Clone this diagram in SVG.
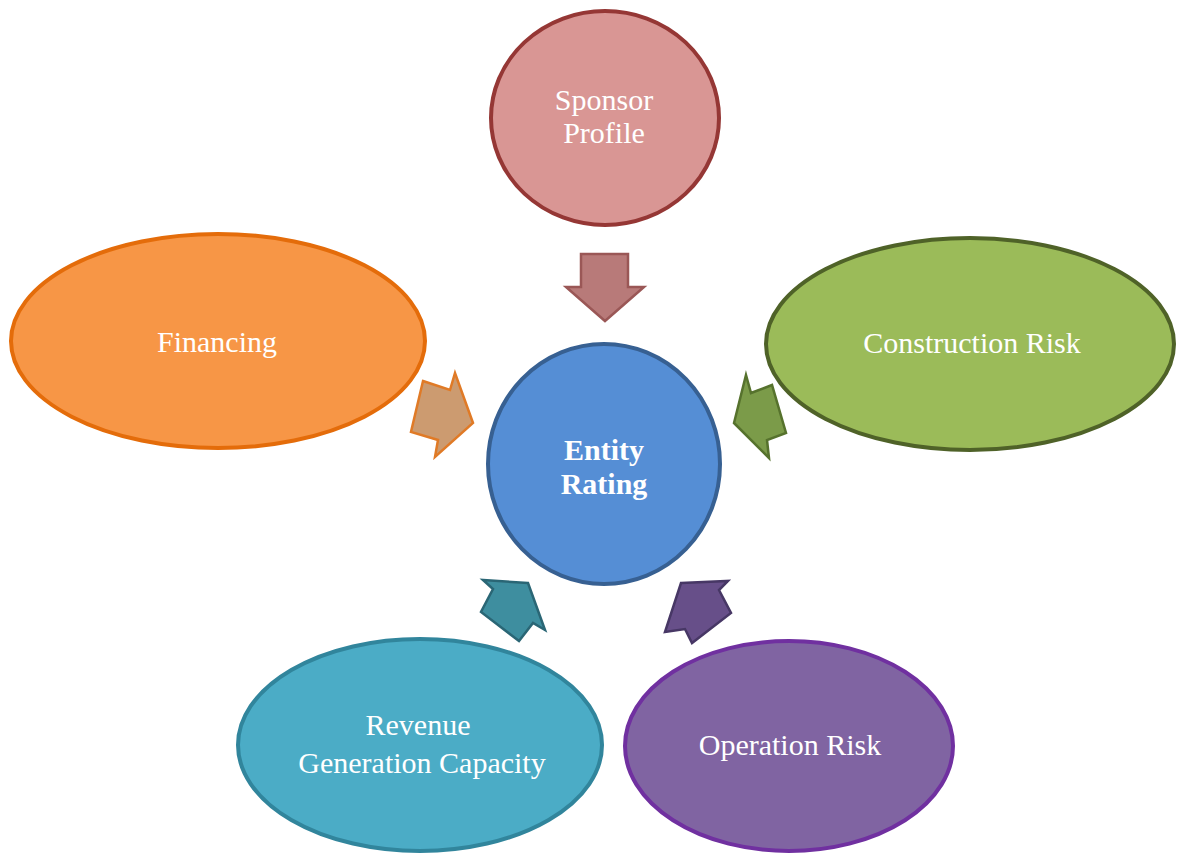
<svg xmlns="http://www.w3.org/2000/svg" width="1177" height="855" viewBox="0 0 1177 855">
<style>
.lbl{font-family:"Liberation Serif","Times New Roman",serif;font-size:30px;fill:#ffffff;text-anchor:middle}
.node{stroke-width:4}
.arr{stroke-width:2.5;stroke-linejoin:miter}
</style>
<rect width="1177" height="855" fill="#ffffff"/>
<g id="connectors">
<polygon class="arr" fill="#b87a79" stroke="#9a5756" points="581,254 628,254 628,287 644,287 605,321 566,287 581,287"/>
<polygon class="arr" fill="#cc9b70" stroke="#e07a26" points="423,381 450,390 455,373 473,423 435,457 438,440 411,432"/>
<polygon class="arr" fill="#7b9b49" stroke="#56722d" points="746,375 751,393 772,385 786,433 767,440 769,458 734,423"/>
<polygon class="arr" fill="#3e8e9f" stroke="#2a6675" points="528,583 483,580 493,589 481,612 519,641 533,623 545,630"/>
<polygon class="arr" fill="#674f89" stroke="#473765" points="681,583 728,581 719,590 731,613 692,643 685,629 665,632"/>
</g>
<g id="sponsor">
<ellipse class="node" cx="605" cy="118" rx="114" ry="107" fill="#d99694" stroke="#953735"/>
<text class="lbl" x="604" y="110">Sponsor</text>
<text class="lbl" x="604" y="143">Profile</text>
</g>
<g id="financing">
<ellipse class="node" cx="218" cy="341" rx="207" ry="107" fill="#f79646" stroke="#e46c0a"/>
<text class="lbl" x="217" y="352">Financing</text>
</g>
<g id="construction">
<ellipse class="node" cx="970" cy="344" rx="204" ry="106" fill="#9bbb59" stroke="#4f6228"/>
<text class="lbl" x="972" y="353">Construction Risk</text>
</g>
<g id="entity">
<ellipse class="node" cx="604" cy="464" rx="116" ry="120" fill="#558ed5" stroke="#376092"/>
<text class="lbl" x="604" y="460" font-weight="bold">Entity</text>
<text class="lbl" x="604" y="494" font-weight="bold">Rating</text>
</g>
<g id="revenue">
<ellipse class="node" cx="420" cy="745" rx="182" ry="106" fill="#4bacc6" stroke="#31859c"/>
<text class="lbl" x="418" y="735">Revenue</text>
<text class="lbl" x="422" y="773">Generation Capacity</text>
</g>
<g id="operation">
<ellipse class="node" cx="789" cy="746" rx="164" ry="105" fill="#8064a2" stroke="#7030a0"/>
<text class="lbl" x="790" y="755">Operation Risk</text>
</g>
</svg>
